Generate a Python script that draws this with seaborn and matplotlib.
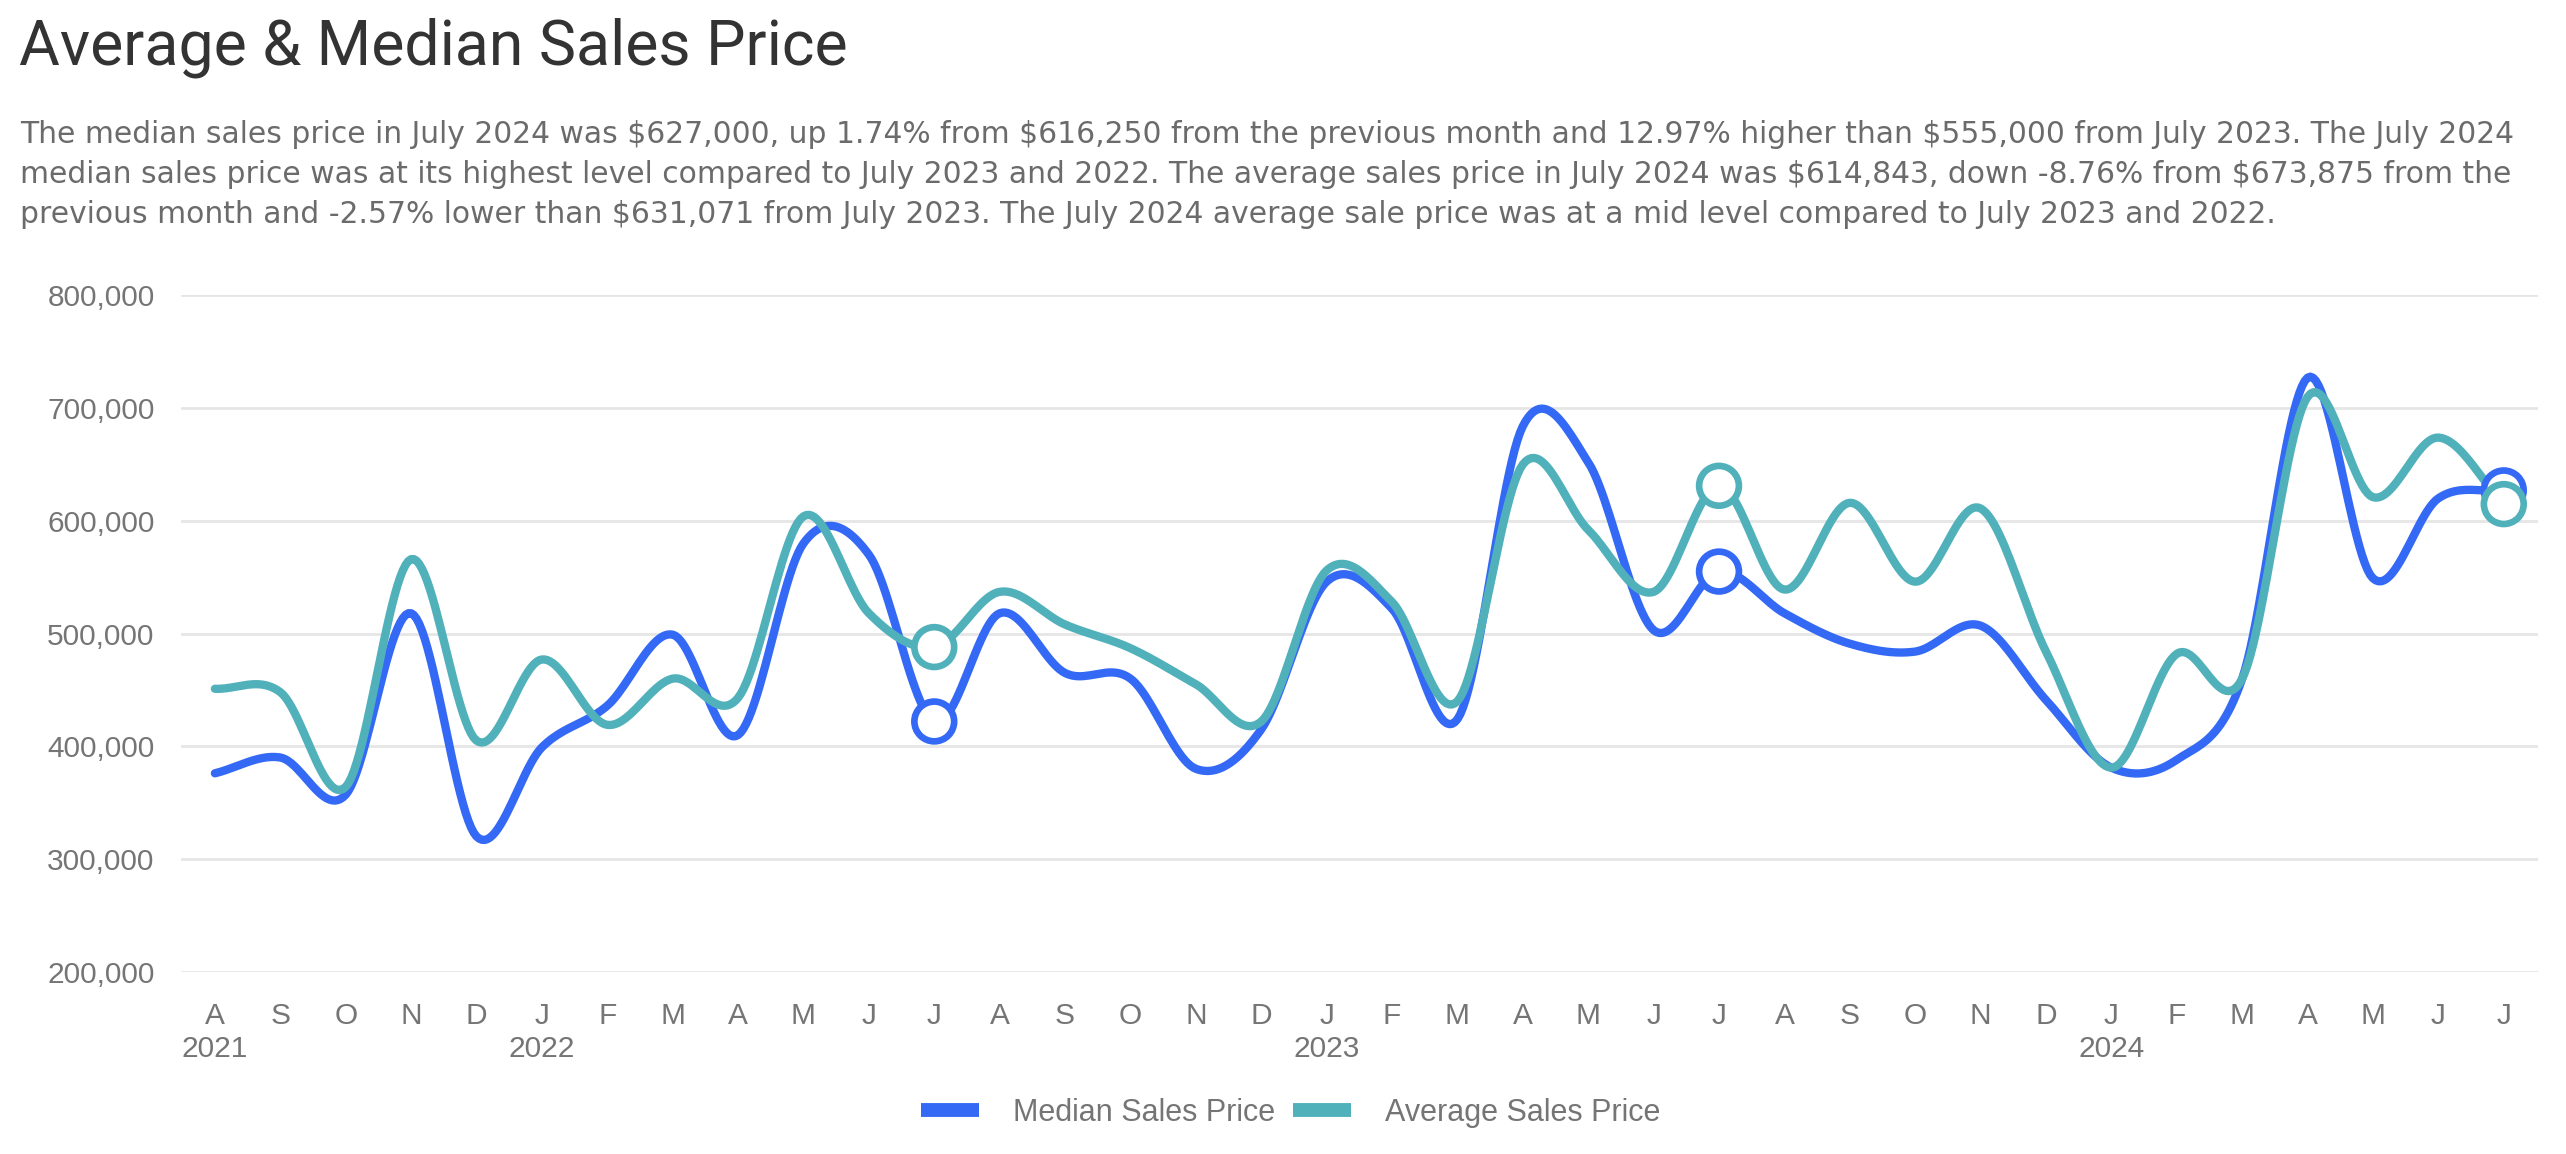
import numpy as np
import pandas as pd
import matplotlib
matplotlib.use("Agg")
import matplotlib.pyplot as plt
from matplotlib.lines import Line2D
import seaborn as sns

# monthly data, Aug 2021 - Jul 2024
months = pd.date_range("2021-08-01", "2024-07-01", freq="MS")
month_letters = ["A", "S", "O", "N", "D",
                 "J", "F", "M", "A", "M", "J", "J", "A", "S", "O", "N", "D",
                 "J", "F", "M", "A", "M", "J", "J", "A", "S", "O", "N", "D",
                 "J", "F", "M", "A", "M", "J", "J"]
year_marks = {0: "2021", 5: "2022", 17: "2023", 29: "2024"}

median_price = [376000, 390000, 357000, 518000, 320000,
                399000, 436000, 499000, 410000, 580000, 570000, 422000,
                518000, 465000, 460000, 380000, 415000,
                546000, 522000, 424000, 684000, 652000, 503000, 555000,
                518000, 491000, 484000, 507000, 441000,
                381000, 388000, 460000, 727000, 549000, 620000, 627000]
average_price = [451000, 448000, 364000, 566000, 405000,
                 477000, 419000, 460000, 443000, 604000, 518000, 488000,
                 537000, 508000, 487000, 455000, 422000,
                 556000, 528000, 440000, 650000, 592000, 537000, 631071,
                 539000, 616000, 546000, 611000, 484000,
                 381000, 482000, 460000, 710000, 621000, 673875, 614843]
highlight_idx = [11, 23, 35]  # July points

blue = "#3469F5"
teal = "#51B1BB"
grey_text = "#757575"


def smooth(values, steps=24):
    # Catmull-Rom spline through the monthly points (like the chart's curved lines)
    y = np.asarray(values, dtype=float)
    p = np.concatenate([[2 * y[0] - y[1]], y, [2 * y[-1] - y[-2]]])
    xs, ys = [], []
    t = np.linspace(0, 1, steps, endpoint=False)
    for i in range(len(y) - 1):
        p0, p1, p2, p3 = p[i], p[i + 1], p[i + 2], p[i + 3]
        seg = 0.5 * (2 * p1 + (-p0 + p2) * t + (2 * p0 - 5 * p1 + 4 * p2 - p3) * t ** 2
                     + (-p0 + 3 * p1 - 3 * p2 + p3) * t ** 3)
        xs.extend(i + t)
        ys.extend(seg)
    xs.append(len(y) - 1)
    ys.append(y[-1])
    return np.array(xs), np.array(ys)


sns.set_theme(style="whitegrid")
plt.rcParams["font.family"] = ["Liberation Sans", "DejaVu Sans"]

fig, ax = plt.subplots(figsize=(25.66, 11.54), dpi=100)
fig.subplots_adjust(left=0.0705, right=0.989, top=0.744, bottom=0.158)

for vals, col, name in [(median_price, blue, "Median Sales Price"),
                        (average_price, teal, "Average Sales Price")]:
    sx, sy = smooth(vals)
    sns.lineplot(x=sx, y=sy, color=col, lw=6, ax=ax, sort=False, label=name)

hl = pd.DataFrame({
    "x": highlight_idx * 2,
    "y": [median_price[i] for i in highlight_idx] + [average_price[i] for i in highlight_idx],
    "s": ["m"] * 3 + ["a"] * 3,
})
sns.scatterplot(data=hl, x="x", y="y", hue="s", palette={"m": blue, "a": teal},
                s=820, linewidth=4.8, ax=ax, legend=False, zorder=5)
for coll in ax.collections:
    coll.set_facecolor("white")
    coll.set_edgecolor([blue] * 3 + [teal] * 3)

ax.set_xlim(-0.52, 35.52)
ax.set_ylim(200000, 800000)
ax.set_yticks(range(200000, 800001, 100000))
ax.set_yticklabels([f"{v:,}" for v in range(200000, 800001, 100000)])
ax.set_xticks(range(len(months)))
ax.set_xticklabels([m + ("\n" + year_marks[i] if i in year_marks else "")
                    for i, m in enumerate(month_letters)], linespacing=1.2)
ax.tick_params(axis="both", length=0, labelsize=21.5, colors=grey_text)
ax.tick_params(axis="y", pad=19)
ax.tick_params(axis="x", pad=22)
ax.grid(axis="x", visible=False)
ax.grid(axis="y", color="#e6e6e6", lw=2)
for s in ax.spines.values():
    s.set_visible(False)
ax.set_xlabel("")
ax.set_ylabel("")

ax.legend_.remove()
handles = [Line2D([], [], color=blue, lw=10, solid_capstyle="butt"),
           Line2D([], [], color=teal, lw=10, solid_capstyle="butt")]
leg = fig.legend(handles, ["Median Sales Price", "Average Sales Price"], loc="center",
                 bbox_to_anchor=(0.503, 0.0355), ncol=2, frameon=False, fontsize=22,
                 handlelength=1.9, handletextpad=1.1, columnspacing=0.6)
for t in leg.get_texts():
    t.set_color(grey_text)

fig.text(0.0075, 0.9437, "Average & Median Sales Price", fontsize=45,
         family="Roboto", color="#333333", va="baseline")
sub_lines = [
    "The median sales price in July 2024 was $627,000, up 1.74% from $616,250 from the previous month and 12.97% higher than $555,000 from July 2023. The July 2024",
    "median sales price was at its highest level compared to July 2023 and 2022. The average sales price in July 2024 was $614,843, down -8.76% from $673,875 from the",
    "previous month and -2.57% lower than $631,071 from July 2023. The July 2024 average sale price was at a mid level compared to July 2023 and 2022.",
]
sub_texts = []
for line, yy in zip(sub_lines, [0.8761, 0.8414, 0.8068]):
    sub_texts.append(fig.text(0.0078, yy, line, fontsize=19, family="DejaVu Sans",
                              color="#6b6b6b", va="baseline", parse_math=False))

# fit the subtitle to the width of the original (it uses wide letter spacing)
renderer = fig.canvas.get_renderer()
w = sub_texts[0].get_window_extent(renderer).width
fs = 19 * 2487 / w
for t in sub_texts:
    t.set_fontsize(fs)

fig.savefig("out.png", dpi=100)
